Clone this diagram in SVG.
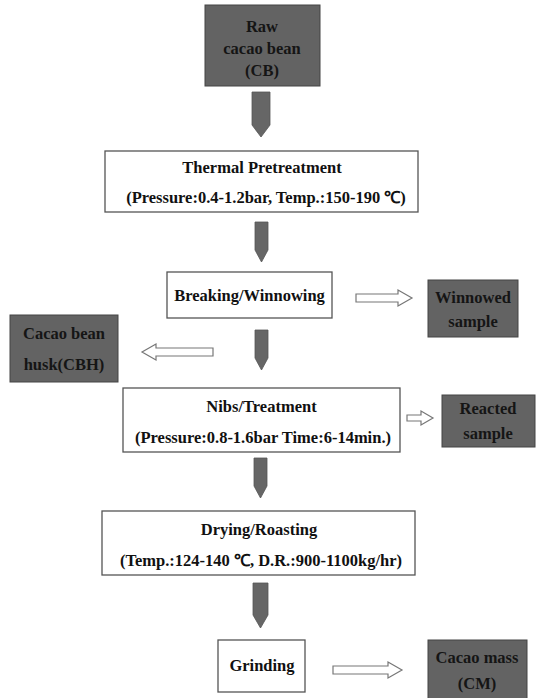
<svg xmlns="http://www.w3.org/2000/svg" width="540" height="698" viewBox="0 0 540 698">
<style>
.box{fill:#fff;stroke:#555;stroke-width:1.3}
.dark{fill:#636363;stroke:#444;stroke-width:1}
.t{font-family:"Liberation Serif","Times New Roman",serif;font-weight:bold;font-size:16.5px;fill:#111;text-anchor:middle}
.td{font-family:"Liberation Serif","Times New Roman",serif;font-weight:bold;font-size:16.5px;fill:#151515;text-anchor:middle}
.down{fill:#666;stroke:#555;stroke-width:0.8}
.hollow{fill:#fff;stroke:#777;stroke-width:1.2}
</style>
<rect width="540" height="698" fill="#fff"/>
<g id="raw"><rect class="dark" x="205" y="5" width="115" height="81"/>
<text class="td" x="262" y="32">Raw</text><text class="td" x="262" y="54">cacao bean</text><text class="td" x="262" y="76">(CB)</text></g>
<g id="thermal"><rect class="box" x="105" y="151" width="313" height="61"/>
<text class="t" x="262" y="173">Thermal Pretreatment</text><text class="t" x="266" y="203">(Pressure:0.4-1.2bar, Temp.:150-190 ℃)</text></g>
<g id="breaking"><rect class="box" x="167" y="272" width="165" height="46"/>
<text class="t" x="249.5" y="301">Breaking/Winnowing</text></g>
<g id="winnowed"><rect class="dark" x="428" y="280" width="90" height="57"/>
<text class="td" x="473" y="303">Winnowed</text><text class="td" x="473" y="327">sample</text></g>
<g id="husk"><rect class="dark" x="10" y="315" width="108" height="67"/>
<text class="td" x="64" y="339">Cacao bean</text><text class="td" x="64" y="370">husk(CBH)</text></g>
<g id="nibs"><rect class="box" x="123" y="388" width="277" height="64"/>
<text class="t" x="261.5" y="412">Nibs/Treatment</text><text class="t" x="263" y="443">(Pressure:0.8-1.6bar Time:6-14min.)</text></g>
<g id="reacted"><rect class="dark" x="442" y="395" width="93" height="52"/>
<text class="td" x="488" y="414">Reacted</text><text class="td" x="488" y="439">sample</text></g>
<g id="drying"><rect class="box" x="102" y="511" width="313" height="64"/>
<text class="t" x="259" y="535">Drying/Roasting</text><text class="t" x="261" y="566">(Temp.:124-140 ℃, D.R.:900-1100kg/hr)</text></g>
<g id="grinding"><rect class="box" x="218" y="640" width="87" height="52"/>
<text class="t" x="262" y="671">Grinding</text></g>
<g id="cacaomass"><rect class="dark" x="428" y="640" width="99" height="62"/>
<text class="td" x="477" y="663">Cacao mass</text><text class="td" x="477" y="689">(CM)</text></g>
<g id="connectors">
<path class="down" d="M252,92H270V125L261,137L252,125Z"/>
<path class="down" d="M255,222H268V250L261.5,262L255,250Z"/>
<path class="down" d="M255,330H268V358L261.5,370L255,358Z"/>
<path class="down" d="M254,458H267V486L260.5,498L254,486Z"/>
<path class="down" d="M253,583H268V615L260.5,628L253,615Z"/>
<path class="hollow" d="M356,294H398V290L412,298L398,306V302H356Z"/>
<path class="hollow" d="M213,348H156V344L142,352L156,360V356H213Z"/>
<path class="hollow" d="M407,415H421V411L433,418L421,425V421H407Z"/>
<path class="hollow" d="M333,666H388V662L402,670L388,678V674H333Z"/>
</g>
</svg>
